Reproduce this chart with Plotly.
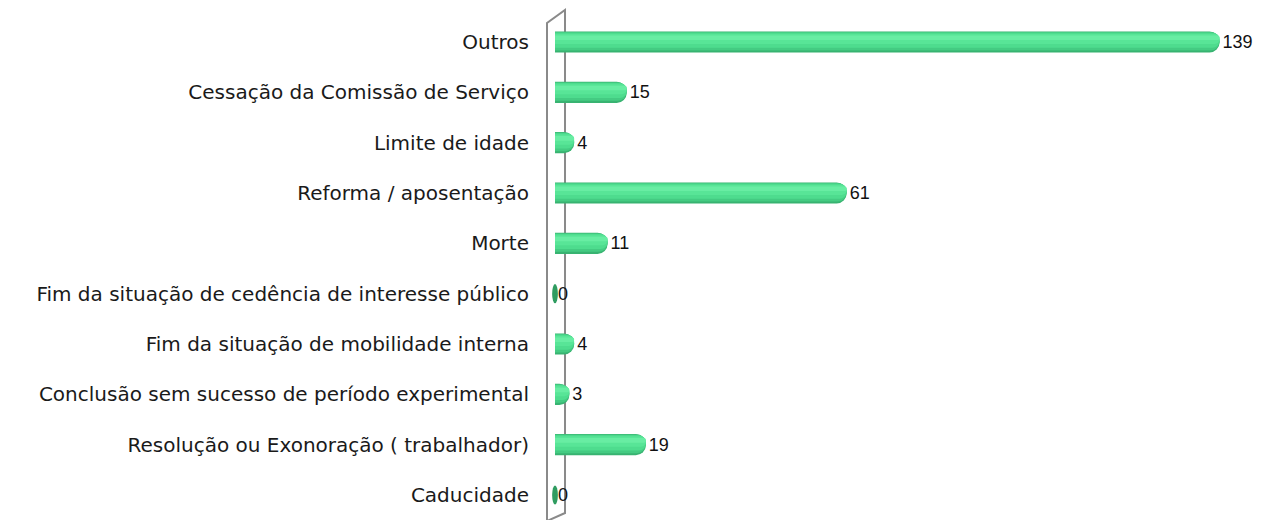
import plotly.graph_objects as go

categories = [
    "Outros",
    "Cessação da Comissão de Serviço",
    "Limite de idade",
    "Reforma / aposentação",
    "Morte",
    "Fim da situação de cedência de interesse público",
    "Fim da situação de mobilidade interna",
    "Conclusão sem sucesso de período experimental",
    "Resolução ou Exonoração ( trabalhador)",
    "Caducidade",
]
values = [139, 15, 4, 61, 11, 0, 4, 3, 19, 0]

pos = list(range(len(categories)))

fig = go.Figure()

# cylinder-like shading via overlaid bars (outer dark -> inner light)
layers = [
    dict(width=0.42, offset=-0.21, color="#38b371"),
    dict(width=0.37, offset=-0.20, color="#44cb82"),
    dict(width=0.30, offset=-0.185, color="#4edc8e"),
    dict(width=0.20, offset=-0.16, color="#58e597"),
    dict(width=0.09, offset=-0.13, color="#68eda3"),
]
for i, L in enumerate(layers):
    fig.add_trace(go.Bar(
        x=values, y=pos, orientation="h",
        width=L["width"], offset=L["offset"],
        marker=dict(color=L["color"], line=dict(width=0), cornerradius="50%"),
        text=[str(v) for v in values] if i == 0 else None,
        textposition="outside" if i == 0 else "none",
        textfont=dict(family="Liberation Sans", size=18, color="#111111"),
        cliponaxis=False,
        hoverinfo="skip",
        showlegend=False,
    ))

shapes = []
# back wall
shapes.append(dict(
    type="path", xref="paper", yref="paper", layer="below",
    path="M 0.00966,-0.02 L 0.00966,0.9558 L 0.0345,0.9808 L 0.0345,0.01346 L 0.00966,-0.002",
    line=dict(color="#8a8a8a", width=2), fillcolor="rgba(0,0,0,0)",
))
# end caps for zero-valued cylinders
for p, v in zip(pos, values):
    if v == 0:
        shapes.append(dict(
            type="circle", xref="x", yref="y", layer="above",
            x0=v - 0.6, x1=v + 0.6, y0=p - 0.19, y1=p + 0.19,
            fillcolor="#2f9c60", line=dict(width=0),
        ))

fig.update_layout(
    width=1265, height=520,
    margin=dict(l=540, r=0, t=0, b=0),
    barmode="overlay",
    plot_bgcolor="white", paper_bgcolor="white",
    shapes=shapes,
    xaxis=dict(visible=False, range=[-3.14, 148.5]),
    yaxis=dict(
        range=[9.497, -0.834],
        tickvals=pos, ticktext=categories,
        showgrid=False, zeroline=False, showline=False, ticks="",
        ticklabelstandoff=10,
        tickfont=dict(family="DejaVu Sans", size=20, color="#1a1a1a"),
    ),
)

fig.write_html(
    "out.html",
    config={"displayModeBar": False},
    post_script="document.body.style.margin='0';document.body.style.padding='0';",
)
